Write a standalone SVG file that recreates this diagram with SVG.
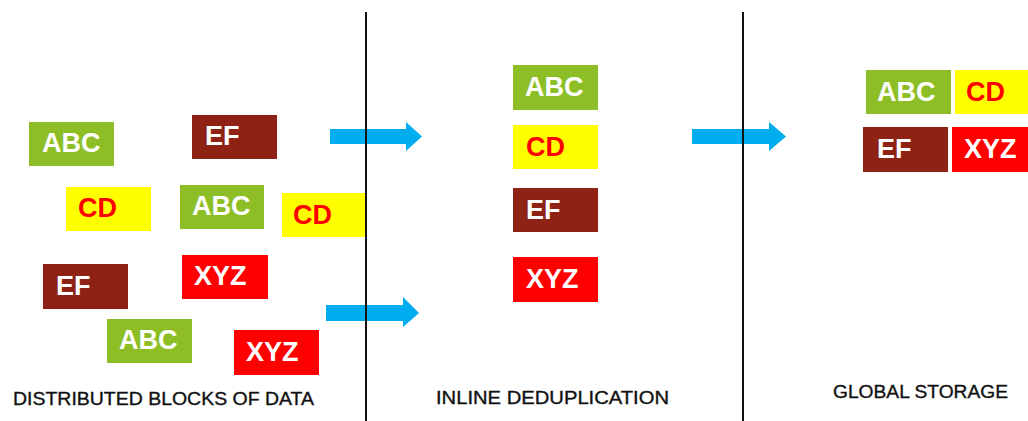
<svg xmlns="http://www.w3.org/2000/svg" width="1028" height="421" viewBox="0 0 1028 421">
  <style>
    .blk { stroke: none; }
    .g { fill: #8DBE26; }
    .y { fill: #FFFF00; }
    .b { fill: #8E2315; }
    .r { fill: #FF0000; }
    .lbl { font-family: "Liberation Sans", Arial, sans-serif; font-weight: bold; font-size: 27px; fill: #FFFFFF; }
    .lbl.on-y { fill: #FF0000; }
    .cap { font-family: "Liberation Sans", Arial, sans-serif; font-size: 18px; fill: #111111; stroke: #111111; stroke-width: 0.35px; }
    .arrow { fill: #00AEEF; }
    .sep { stroke: #111111; stroke-width: 2; }
  </style>

  <rect width="1028" height="421" fill="#FFFFFF"/>

  <!-- flow arrows -->
  <g id="connectors">
    <polygon class="arrow" points="330,129 406,129 406,122 422,136.5 406,151 406,144 330,144"/>
    <polygon class="arrow" points="326,305 403,305 403,297 419,313 403,327 403,321 326,321"/>
    <polygon class="arrow" points="692,129 769,129 769,122 786,136.5 769,151 769,144 692,144"/>
  </g>

  <!-- left column: scattered blocks -->
  <g id="left-abc-1"><rect class="blk g" x="29" y="122" width="85" height="44"/><text class="lbl" x="42" y="152">ABC</text></g>
  <g id="left-ef-1"><rect class="blk b" x="192" y="115" width="85" height="44"/><text class="lbl" x="205" y="145">EF</text></g>
  <g id="left-cd-1"><rect class="blk y" x="66" y="187" width="85" height="44"/><text class="lbl on-y" x="78" y="217">CD</text></g>
  <g id="left-abc-2"><rect class="blk g" x="180" y="185" width="84" height="44"/><text class="lbl" x="192" y="215">ABC</text></g>
  <g id="left-cd-2"><rect class="blk y" x="282" y="193" width="84" height="44"/><text class="lbl on-y" x="293" y="224">CD</text></g>
  <g id="left-ef-2"><rect class="blk b" x="43" y="264" width="85" height="45"/><text class="lbl" x="56" y="295">EF</text></g>
  <g id="left-xyz-1"><rect class="blk r" x="182" y="255" width="86" height="44"/><text class="lbl" x="194" y="285">XYZ</text></g>
  <g id="left-abc-3"><rect class="blk g" x="107" y="319" width="85" height="44"/><text class="lbl" x="119" y="349">ABC</text></g>
  <g id="left-xyz-2"><rect class="blk r" x="234" y="330" width="85" height="45"/><text class="lbl" x="246" y="361">XYZ</text></g>

  <!-- middle column: deduplicated blocks -->
  <g id="mid-abc"><rect class="blk g" x="513" y="65" width="85" height="45"/><text class="lbl" x="525" y="96">ABC</text></g>
  <g id="mid-cd"><rect class="blk y" x="513" y="125" width="85" height="44"/><text class="lbl on-y" x="526" y="156">CD</text></g>
  <g id="mid-ef"><rect class="blk b" x="513" y="188" width="85" height="44"/><text class="lbl" x="526" y="219">EF</text></g>
  <g id="mid-xyz"><rect class="blk r" x="513" y="257" width="85" height="45"/><text class="lbl" x="526" y="288">XYZ</text></g>

  <!-- right column: global storage -->
  <g id="store-abc"><rect class="blk g" x="866" y="70" width="85" height="44"/><text class="lbl" x="877" y="101">ABC</text></g>
  <g id="store-cd"><rect class="blk y" x="955" y="70" width="85" height="44"/><text class="lbl on-y" x="966" y="101">CD</text></g>
  <g id="store-ef"><rect class="blk b" x="863" y="127" width="85" height="45"/><text class="lbl" x="877" y="158">EF</text></g>
  <g id="store-xyz"><rect class="blk r" x="952" y="127" width="85" height="45"/><text class="lbl" x="964" y="158">XYZ</text></g>

  <!-- column separators -->
  <g id="separators">
    <line class="sep" x1="366" y1="12" x2="366" y2="421"/>
    <line class="sep" x1="743" y1="12" x2="743" y2="421"/>
  </g>

  <!-- column captions -->
  <g id="captions">
    <text class="cap" x="13" y="405" textLength="301" lengthAdjust="spacingAndGlyphs">DISTRIBUTED BLOCKS OF DATA</text>
    <text class="cap" x="436" y="404" textLength="233" lengthAdjust="spacingAndGlyphs">INLINE DEDUPLICATION</text>
    <text class="cap" x="833" y="398" textLength="175" lengthAdjust="spacingAndGlyphs">GLOBAL STORAGE</text>
  </g>
</svg>
